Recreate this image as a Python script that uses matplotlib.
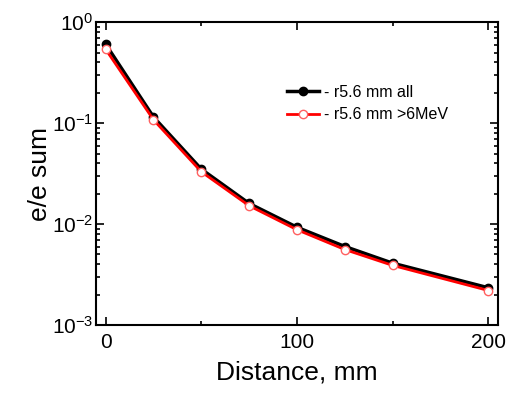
import numpy as np
import matplotlib.pyplot as plt
from matplotlib.ticker import LogLocator, NullFormatter, MultipleLocator

plt.rcParams['font.family'] = ['Liberation Sans', 'DejaVu Sans']

distance = [0, 25, 50, 75, 100, 125, 150, 200]
ee_all = [0.605, 0.115, 0.035, 0.016, 0.0093, 0.0060, 0.0041, 0.00234]
ee_6mev = [0.54, 0.108, 0.033, 0.0152, 0.0088, 0.0056, 0.0039, 0.0022]

fig = plt.figure(figsize=(5.32, 3.95), dpi=100)
ax = fig.add_axes([0.1805, 0.177, 0.7555, 0.767])

ax.plot(distance, ee_all, '-o', color='black', lw=2.5, ms=6,
        mfc='black', mec='black', label='- r5.6 mm all')
ax.plot(distance, ee_6mev, '-o', color='red', lw=2.0, ms=6,
        mfc='white', mec='#ff6060', mew=1.0, label='- r5.6 mm >6MeV')

ax.set_yscale('log')
ax.set_xlim(-5, 205)
ax.set_ylim(1e-3, 1)
ax.xaxis.set_major_locator(MultipleLocator(100))
ax.xaxis.set_minor_locator(MultipleLocator(50))
ax.yaxis.set_major_locator(LogLocator(base=10, numticks=10))
ax.yaxis.set_minor_locator(LogLocator(base=10, subs=np.arange(2, 10), numticks=10))
ax.yaxis.set_minor_formatter(NullFormatter())

ax.tick_params(which='both', direction='in', top=True, right=True, width=1.2)
ax.tick_params(which='major', length=6, labelsize=15)
ax.tick_params(which='minor', length=3)
ax.tick_params(axis='x', which='major', pad=6)
ax.tick_params(axis='y', which='major', pad=2)
for s in ax.spines.values():
    s.set_linewidth(1.5)

ax.set_xlabel('Distance, mm', fontsize=19, labelpad=6)
ax.set_ylabel('e/e sum', fontsize=19, labelpad=0)

ax.legend(loc='upper left', bbox_to_anchor=(0.44, 0.84), frameon=False,
          fontsize=11.5, handlelength=2.0, handletextpad=0.3, labelspacing=0.45)

fig.savefig('out.png', dpi=100)
